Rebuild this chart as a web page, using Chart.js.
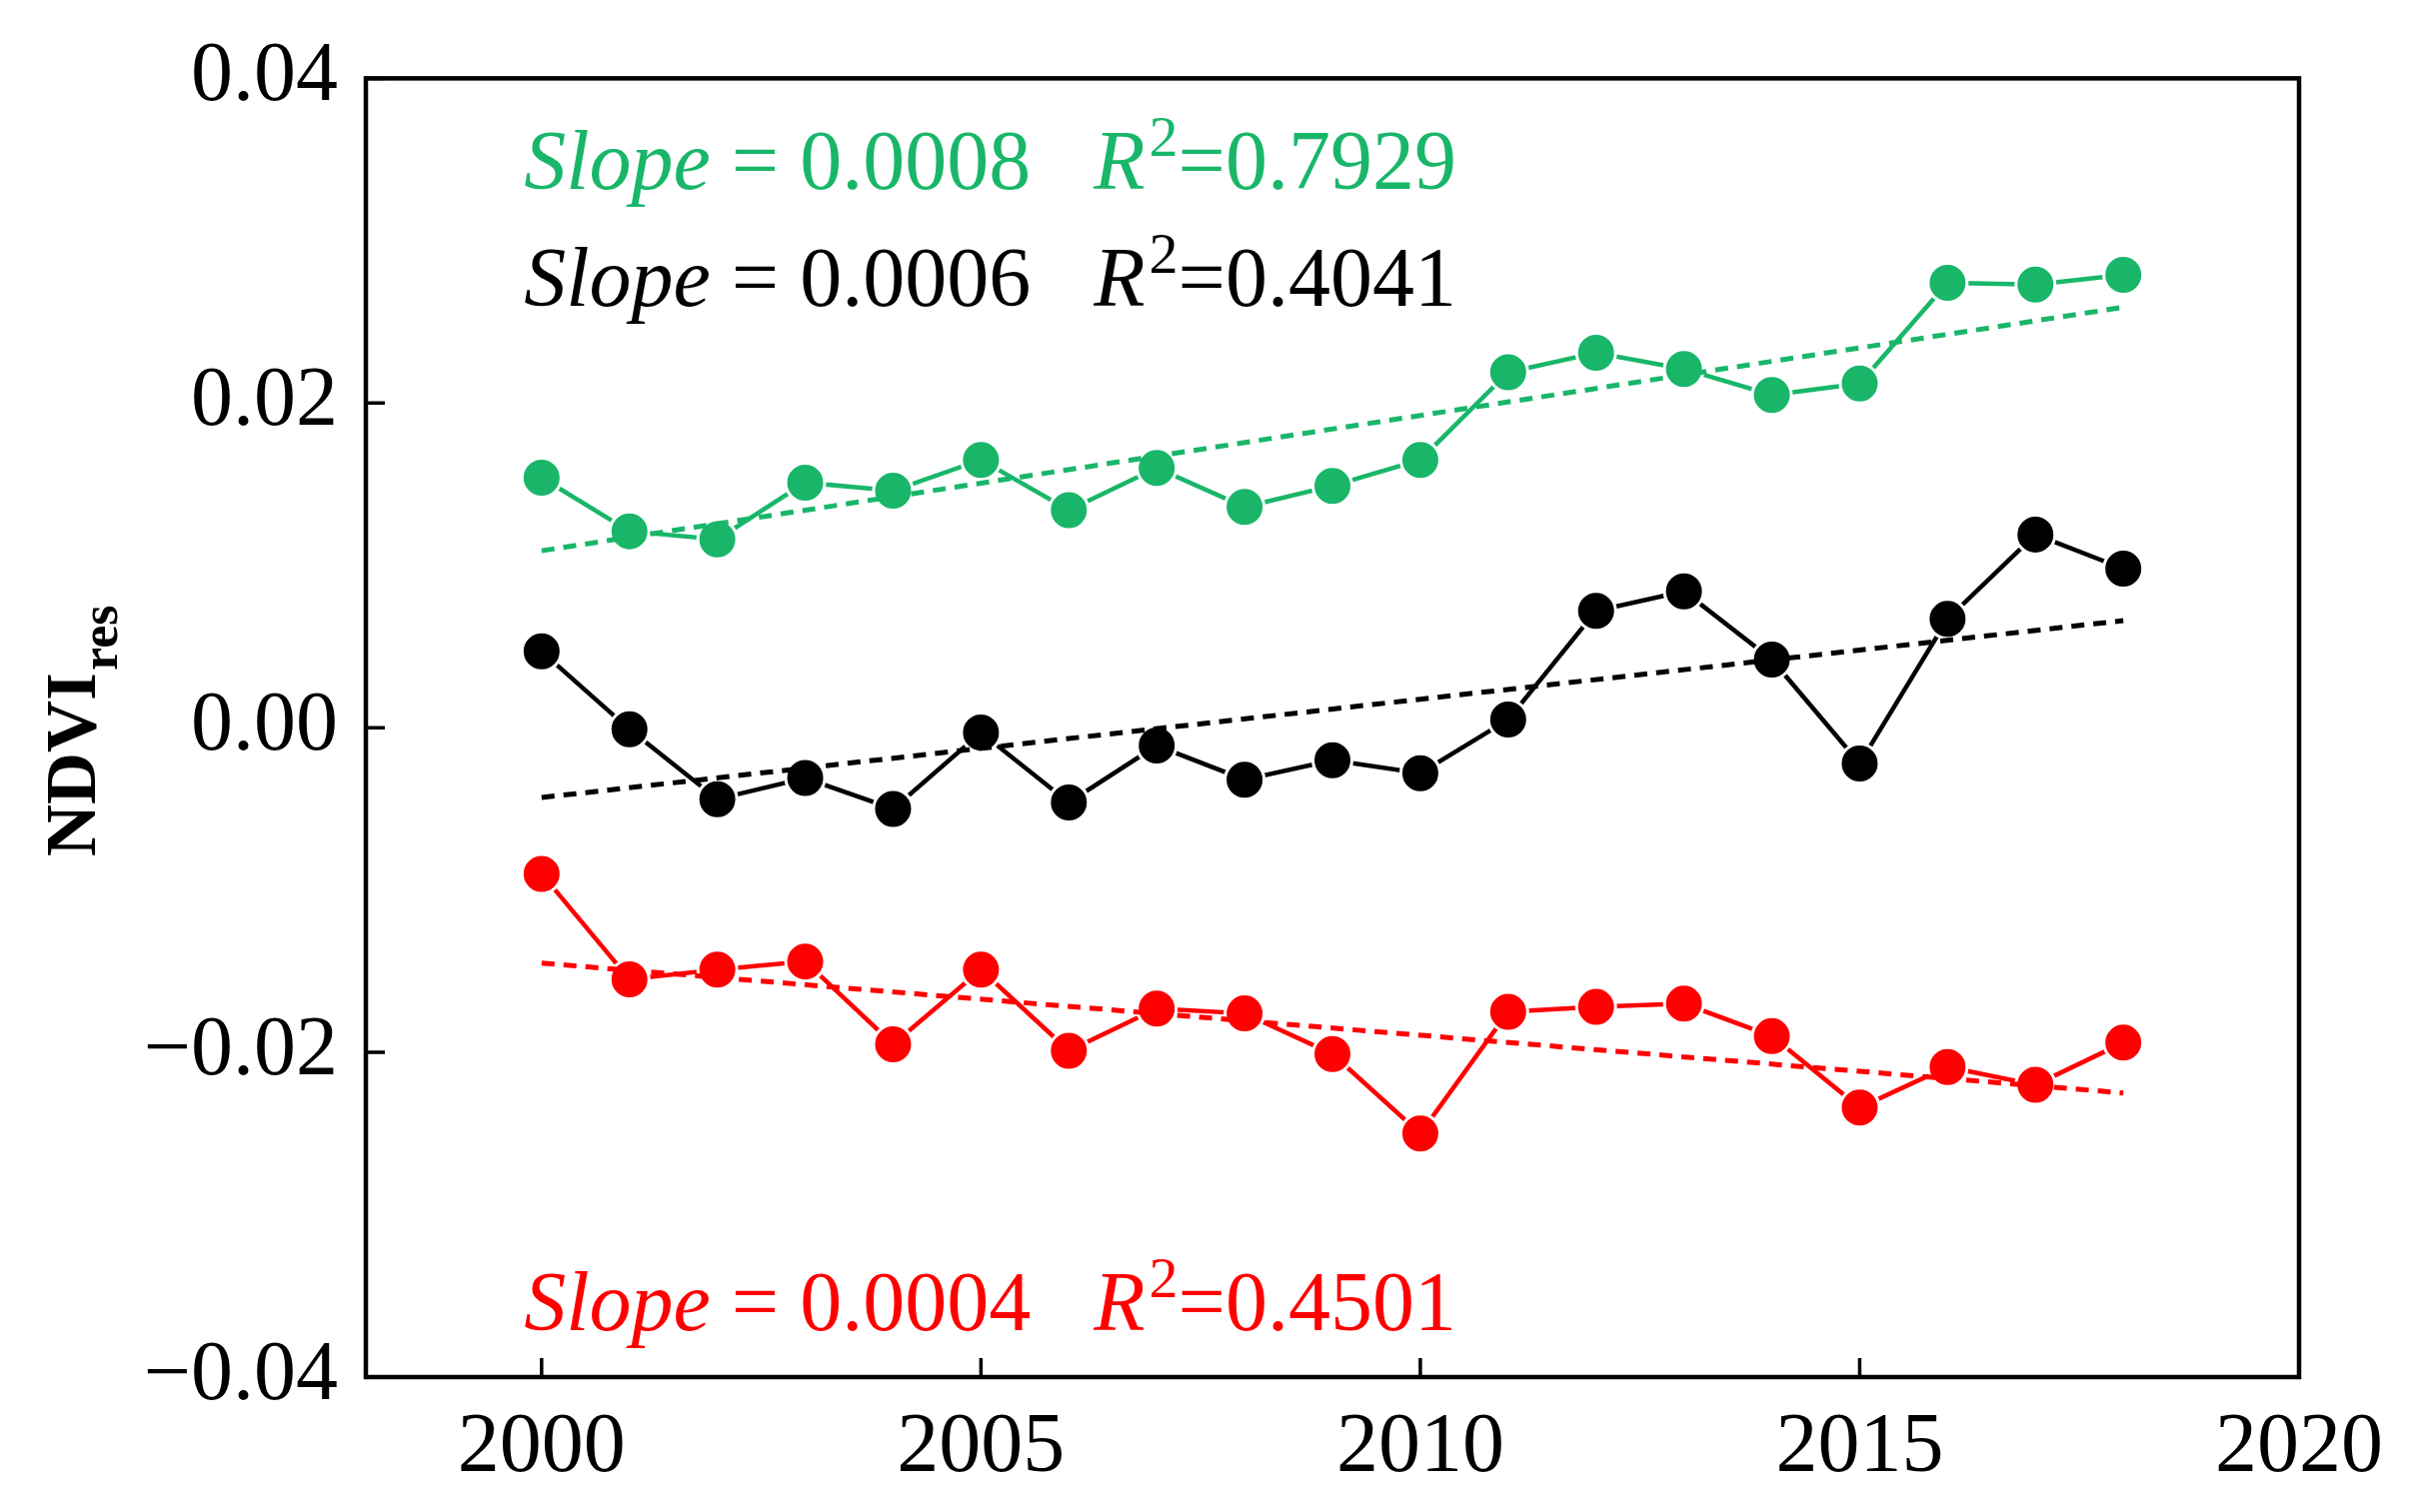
<!DOCTYPE html>
<html>
<head>
<meta charset="utf-8">
<script src="https://cdn.jsdelivr.net/npm/chart.js@4.4.1/dist/chart.umd.min.js"></script>
<style>
  html, body { margin: 0; padding: 0; background: #fff; }
  #wrap { width: 2432px; height: 1513px; }
</style>
</head>
<body>
<div id="wrap"><canvas id="ndviChart"></canvas></div>
<script>
const years = [2000, 2001, 2002, 2003, 2004, 2005, 2006, 2007, 2008, 2009,
               2010, 2011, 2012, 2013, 2014, 2015, 2016, 2017, 2018];
const greenValues = [0.0154, 0.0121, 0.0116, 0.0151, 0.0146, 0.0165, 0.0134, 0.0160, 0.0136, 0.0149,
                     0.0165, 0.0219, 0.0231, 0.0221, 0.0205, 0.0212, 0.0274, 0.0273, 0.0279];
const blackValues = [0.0047, -0.0001, -0.0044, -0.0031, -0.0050, -0.0003, -0.0046, -0.0011, -0.0032, -0.0020,
                     -0.0028, 0.0005, 0.0072, 0.0084, 0.0042, -0.0022, 0.0067, 0.0119, 0.0098];
const redValues = [-0.0090, -0.0155, -0.0149, -0.0144, -0.0195, -0.0149, -0.0199, -0.0173, -0.0176, -0.0201,
                   -0.0250, -0.0175, -0.0172, -0.0170, -0.0190, -0.0234, -0.0209, -0.0220, -0.0194];

const trendYears = [2000, 2018];
const greenTrend = [0.0109, 0.0259];
const blackTrend = [-0.0043, 0.0066];
const redTrend = [-0.0145, -0.0225];

const xTicks = [2000, 2005, 2010, 2015, 2020];
const yTicks = [-0.04, -0.02, 0, 0.02, 0.04];

const slopeLabels = ['0.0008', '0.0006', '0.0004'];
const r2Labels = ['0.7929', '0.4041', '0.4501'];
const yTitleMain = 'NDVI';
const yTitleSub = 'res';

const GREEN = '#19b66a';
const BLACK = '#000000';
const RED = '#ff0000';
const labelColors = [GREEN, BLACK, RED];
const serif = '"Liberation Serif", "Times New Roman", serif';

function toPoints(xs, ys) {
  return xs.map((x, i) => ({ x: x, y: ys[i] }));
}

function seriesSet(values, color) {
  return {
    data: toPoints(years, values),
    borderColor: color,
    backgroundColor: color,
    borderWidth: 4.5,
    pointRadius: 19.5,
    pointHoverRadius: 19.5,
    pointBorderWidth: 3,
    pointBorderColor: '#ffffff',
    pointBackgroundColor: color,
    tension: 0,
    fill: false
  };
}

function trendSet(values, color) {
  return {
    data: toPoints(trendYears, values),
    borderColor: color,
    borderWidth: 5,
    borderDash: [13, 9],
    pointRadius: 0,
    pointHoverRadius: 0,
    fill: false
  };
}

// frame + inward ticks
const frameAndTicks = {
  id: 'frameAndTicks',
  afterDraw(chart) {
    const { ctx, chartArea: a, scales: { x, y } } = chart;
    ctx.save();
    ctx.strokeStyle = '#000';
    ctx.lineWidth = 3.5;
    ctx.beginPath();
    xTicks.forEach(v => {
      const px = x.getPixelForValue(v);
      ctx.moveTo(px, a.bottom);
      ctx.lineTo(px, a.bottom - 19);
    });
    yTicks.forEach(v => {
      const py = y.getPixelForValue(v);
      ctx.moveTo(a.left, py);
      ctx.lineTo(a.left + 19, py);
    });
    ctx.stroke();
    ctx.lineWidth = 4.5;
    ctx.strokeRect(a.left, a.top, a.right - a.left, a.bottom - a.top);
    ctx.restore();
  }
};

// Slope / R² annotations
const slopeText = {
  id: 'slopeText',
  afterDraw(chart) {
    const { ctx, scales: { x, y } } = chart;
    const rowY = [0.0332, 0.0260, -0.0371];
    ctx.save();
    ctx.textBaseline = 'alphabetic';
    ctx.textAlign = 'left';
    rowY.forEach((yv, i) => {
      let px = x.getPixelForValue(1999.8);
      const py = y.getPixelForValue(yv);
      ctx.fillStyle = labelColors[i];
      const runs = [
        ['italic', 84, 'Slope', 0],
        ['normal', 84, ' = ' + slopeLabels[i] + '   ', 0],
        ['italic', 84, 'R', 0],
        ['normal', 58, '2', -33],
        ['normal', 84, '=' + r2Labels[i], 0]
      ];
      runs.forEach(([style, size, txt, dy]) => {
        ctx.font = style + ' ' + size + 'px ' + serif;
        ctx.fillText(txt, px, py + dy);
        px += ctx.measureText(txt).width;
        if (txt === 'R') px += 4;
      });
    });
    ctx.restore();
  }
};

// rotated y title with subscript
const yTitle = {
  id: 'yTitle',
  afterDraw(chart) {
    const { ctx, chartArea: a } = chart;
    ctx.save();
    ctx.fillStyle = '#000';
    ctx.font = 'bold 72px ' + serif;
    const w1 = ctx.measureText(yTitleMain).width;
    ctx.font = 'bold 52px ' + serif;
    const w2 = ctx.measureText(yTitleSub).width;
    const cy = (a.top + a.bottom) / 2 + 4;
    ctx.translate(95, cy + (w1 + w2) / 2);
    ctx.rotate(-Math.PI / 2);
    ctx.font = 'bold 72px ' + serif;
    ctx.fillText(yTitleMain, 0, 0);
    ctx.font = 'bold 52px ' + serif;
    ctx.fillText(yTitleSub, w1 + 2, 22);
    ctx.restore();
  }
};

const ctx = document.getElementById('ndviChart').getContext('2d');

new Chart(ctx, {
  type: 'line',
  data: {
    datasets: [
      trendSet(greenTrend, GREEN),
      trendSet(blackTrend, BLACK),
      trendSet(redTrend, RED),
      seriesSet(greenValues, GREEN),
      seriesSet(blackValues, BLACK),
      seriesSet(redValues, RED)
    ]
  },
  options: {
    responsive: true,
    maintainAspectRatio: false,
    animation: false,
    layout: {
      padding: { top: 76, right: 132, left: 0, bottom: 0 }
    },
    plugins: {
      legend: { display: false },
      tooltip: { enabled: false }
    },
    scales: {
      x: {
        type: 'linear',
        min: 1998,
        max: 2020,
        afterBuildTicks: s => { s.ticks = xTicks.map(v => ({ value: v })); },
        afterFit: s => { s.height = 135; },
        grid: { display: false, drawTicks: false },
        border: { display: false },
        ticks: {
          font: { family: serif, size: 84 },
          color: '#000',
          padding: 22,
          maxRotation: 0,
          autoSkip: false,
          callback: v => String(v)
        }
      },
      y: {
        type: 'linear',
        min: -0.04,
        max: 0.04,
        afterBuildTicks: s => { s.ticks = yTicks.map(v => ({ value: v })); },
        afterFit: s => { s.width = 366; },
        grid: { display: false, drawTicks: false },
        border: { display: false },
        ticks: {
          font: { family: serif, size: 84 },
          color: '#000',
          padding: 28,
          autoSkip: false,
          callback: v => (v < 0 ? '\u2212' : '') + Math.abs(v).toFixed(2)
        }
      }
    }
  },
  plugins: [frameAndTicks, slopeText, yTitle]
});
</script>
</body>
</html>
